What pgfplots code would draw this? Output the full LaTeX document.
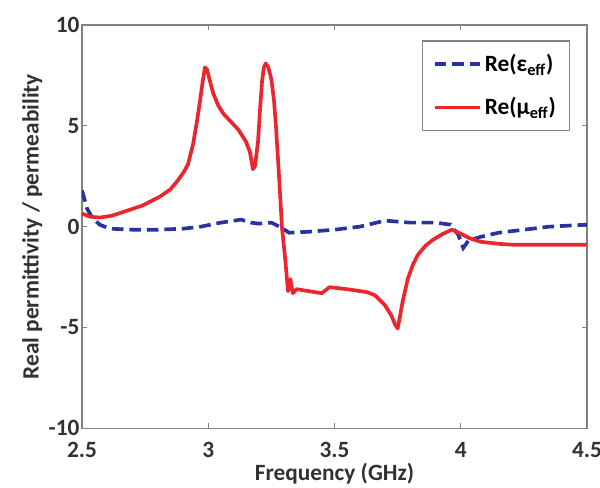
\documentclass[border=0pt]{standalone}
\usepackage{pgfplots}
\pgfplotsset{compat=1.18}
\usepackage{fontspec}
\setmainfont{Carlito}
\definecolor{epsblue}{RGB}{40,50,160}
\definecolor{mured}{RGB}{236,38,44}
\definecolor{axgray}{RGB}{130,130,130}
\definecolor{txtgray}{RGB}{50,50,50}
\begin{document}
\begin{tikzpicture}
\begin{axis}[
    scale only axis,
    width=303pt, height=242pt,
    xmin=2.5, xmax=4.5, ymin=-10, ymax=10,
    xtick={2.5,3,3.5,4,4.5},
    ytick={-10,-5,0,5,10},
    tick align=inside,
    major tick length=3pt,
    axis line style={axgray, line width=0.8pt},
    every tick/.style={axgray, line width=0.6pt},
    font=\fontsize{14}{16}\selectfont\bfseries\color{txtgray},
    /pgf/number format/assume math mode=true,
    xticklabel style={yshift=-5pt},
    yticklabel style={xshift=2pt},
    xlabel={Frequency (GHz)},
    ylabel={Real permittivity / permeability},
    xlabel style={yshift=4pt},
    ylabel style={yshift=-3pt},
    legend style={at={(0.966,0.962)}, anchor=north east, draw=axgray,
        line width=0.8pt, font=\fontsize{14}{16}\selectfont\bfseries,
        row sep=10pt, inner xsep=6pt, inner ysep=6pt},
    legend image code/.code={\draw[#1] (0cm,0cm) -- (0.95cm,0cm);},
    legend cell align=left,
]
\addplot[epsblue, line width=2.2pt, dash pattern=on 7pt off 3.5pt] coordinates {
(2.50,1.8) (2.52,0.9) (2.54,0.45) (2.57,0.1) (2.61,-0.1) (2.70,-0.15)
(2.80,-0.15) (2.90,-0.1) (2.97,0.0) (3.05,0.2) (3.13,0.35) (3.17,0.2)
(3.20,0.15) (3.25,0.2) (3.29,-0.05) (3.32,-0.3) (3.40,-0.25) (3.50,-0.15)
(3.60,0.0) (3.70,0.3) (3.80,0.2) (3.90,0.2) (3.96,0.1) (3.99,-0.4)
(4.01,-1.05) (4.03,-0.7) (4.08,-0.5) (4.15,-0.3) (4.25,-0.15) (4.35,0.0)
(4.50,0.1)
};
\addlegendentry{Re(ε\textsubscript{eff})}
\addplot[mured, line width=2.2pt, line join=round] coordinates {
(2.50,0.65) (2.53,0.5) (2.57,0.45) (2.62,0.55) (2.68,0.8) (2.74,1.05)
(2.81,1.5) (2.85,1.85) (2.88,2.3) (2.905,2.75) (2.92,3.1) (2.94,4.1)
(2.955,5.2) (2.967,6.2) (2.978,7.2) (2.987,7.9) (2.995,7.8) (3.005,7.3)
(3.02,6.6) (3.04,6.0) (3.06,5.6) (3.09,5.2) (3.12,4.8) (3.15,4.2)
(3.165,3.7) (3.177,2.85) (3.185,3.0) (3.197,4.2) (3.205,5.8) (3.213,7.2)
(3.22,7.9) (3.228,8.1) (3.238,7.9) (3.25,7.3) (3.26,6.3) (3.268,5.0)
(3.276,3.4) (3.285,1.5) (3.292,-0.05) (3.304,-1.5) (3.316,-3.2) (3.325,-2.6)
(3.335,-3.3) (3.35,-3.1) (3.40,-3.2) (3.45,-3.3) (3.48,-3.0) (3.55,-3.1)
(3.63,-3.25) (3.66,-3.4) (3.70,-3.9) (3.725,-4.4) (3.74,-4.85) (3.75,-5.05)
(3.757,-4.6) (3.77,-3.7) (3.79,-2.6) (3.81,-1.9) (3.83,-1.4) (3.86,-0.95)
(3.89,-0.65) (3.93,-0.35) (3.965,-0.15) (4.00,-0.35) (4.04,-0.6) (4.08,-0.75)
(4.15,-0.85) (4.21,-0.9) (4.35,-0.9) (4.50,-0.9)
};
\addlegendentry{Re(μ\textsubscript{eff})}
\end{axis}
\pgfresetboundingbox
\path (current axis.south west) ++(-49.2pt,-35.4pt) coordinate (bbl);
\path (current axis.north east) ++(7.8pt,15pt) coordinate (bbr);
\useasboundingbox (bbl) rectangle (bbr);
\end{tikzpicture}
\end{document}
